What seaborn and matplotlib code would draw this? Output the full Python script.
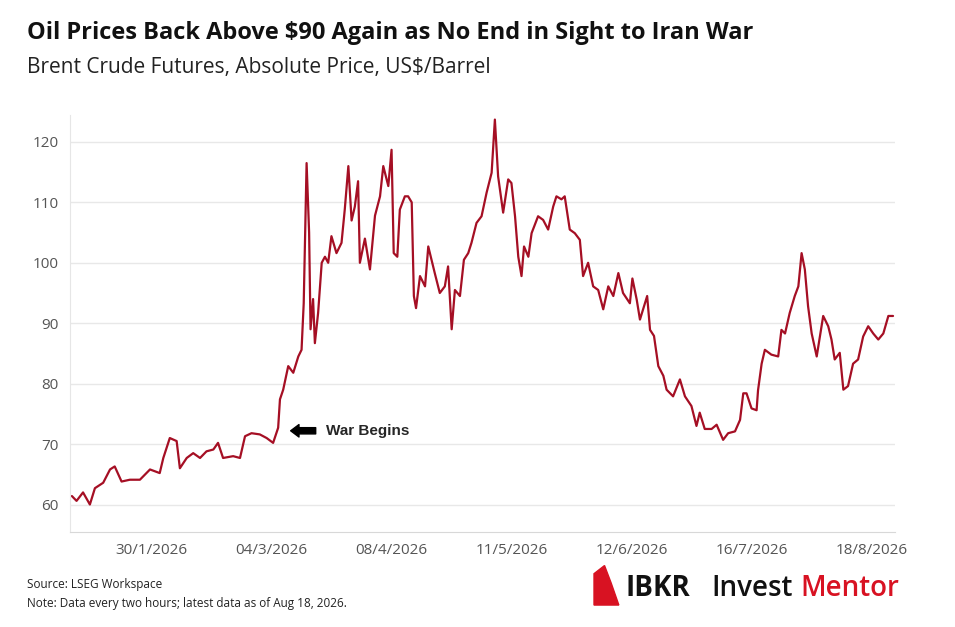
import matplotlib
matplotlib.use("Agg")
import matplotlib.pyplot as plt
import seaborn as sns
import pandas as pd
from matplotlib.patches import Polygon

# days since 8 Jan 2026 (approx.)
days = [0, 1.3, 3.1, 5.0, 6.4, 8.7, 10.6, 11.9, 13.8, 16.1, 18.9, 21.7, 24.4, 25.4, 27.2, 29.1, 30.0,
        31.9, 33.7, 35.6, 37.4, 39.3, 40.6, 42.0, 44.8, 46.7, 48.1, 49.9, 52.2, 54.1, 55.9, 57.3, 57.8,
        58.7, 60.1, 61.5, 62.9, 63.8, 64.4, 65.2, 65.9, 66.3, 67.0, 67.5, 68.4, 69.4, 70.3, 71.2, 72.1,
        73.5, 74.9, 75.8, 76.8, 77.7, 78.6, 79.5, 80.0, 81.4, 82.8, 84.2, 85.6, 86.5, 87.9, 88.8, 89.4,
        90.4, 91.1, 92.5, 93.4, 94.4, 95.0, 95.6, 96.7, 98.1, 99.0, 99.9, 100.8, 102.2, 103.6, 104.5,
        105.5, 106.4, 107.8, 108.9, 110.1, 111.0, 112.4, 113.8, 115.2, 116.6, 117.5, 118.4, 119.8, 121.2,
        122.1, 123.1, 124.0, 124.9, 125.6, 126.8, 127.7, 129.5, 130.9, 132.3, 133.7, 134.6, 136.0, 136.9,
        138.3, 139.7, 141.1, 142.0, 143.4, 144.8, 146.2, 147.6, 149.0, 150.4, 151.8, 153.1, 155.0, 155.7,
        156.9, 157.8, 159.2, 159.8, 160.6, 161.7, 162.9, 164.3, 165.2, 167.0, 168.9, 170.3, 172.1, 173.5,
        174.4, 175.8, 177.7, 179.1, 180.9, 182.3, 184.2, 185.6, 186.5, 187.4, 188.8, 190.2, 190.6, 191.6,
        192.5, 194.3, 196.2, 197.1, 198.1, 199.4, 200.8, 201.8, 202.7, 203.6, 204.5, 205.5, 206.9, 207.8,
        208.7, 210.1, 211.0, 211.9, 213.3, 214.3, 215.6, 217.0, 218.4, 219.8, 221.2, 222.6, 224.0, 225.4,
        226.8, 228.1]
price = [61.4, 60.6, 62.0, 60.0, 62.7, 63.6, 65.8, 66.3, 63.8, 64.1, 64.1, 65.8, 65.2, 67.7, 71.0, 70.5, 66.0,
         67.7, 68.5, 67.7, 68.8, 69.1, 70.2, 67.7, 68.0, 67.7, 71.3, 71.8, 71.6, 71.0, 70.2, 72.7, 77.4,
         79.0, 82.9, 81.8, 84.5, 85.6, 93.3, 116.5, 105.0, 89.0, 94.0, 86.7, 91.7, 100.0, 101.0, 100.0, 104.4,
         101.6, 103.3, 108.8, 116.0, 107.0, 109.3, 113.5, 100.0, 104.0, 98.9, 107.8, 111.0, 116.0, 112.7, 118.7, 101.6,
         101.0, 108.8, 111.0, 111.0, 110.0, 94.5, 92.5, 97.8, 96.1, 102.7, 100.5, 98.3, 95.0, 96.1, 99.4,
         89.0, 95.5, 94.5, 100.5, 101.6, 103.3, 106.6, 107.7, 111.6, 114.9, 123.7, 114.3, 108.3, 113.8,
         113.2, 107.7, 101.0, 97.8, 102.7, 101.0, 104.9, 107.7, 107.1, 105.5, 109.3, 111.0, 110.5, 111.0,
         105.5, 104.9, 103.8, 97.8, 100.0, 96.1, 95.5, 92.3, 96.1, 94.5, 98.3, 95.0, 93.3, 97.4,
         93.9, 90.6, 93.3, 94.5, 88.9, 87.9, 82.9, 81.3, 79.0, 77.9, 80.7, 77.9, 76.3, 73.0,
         75.2, 72.5, 72.5, 73.2, 70.7, 71.8, 72.1, 74.0, 78.4, 78.4, 75.9, 75.6, 78.9, 83.3,
         85.6, 84.8, 84.5, 88.9, 88.3, 91.7, 94.5, 96.1, 101.6, 98.9, 92.8, 88.3, 84.5, 87.8,
         91.2, 89.5, 87.3, 84.0, 85.1, 79.0, 79.6, 83.3, 84.0, 87.8, 89.5, 88.3, 87.3, 88.3,
         91.2, 91.2]
tick_labels = ["30/1/2026", "04/3/2026", "08/4/2026", "11/5/2026", "12/6/2026", "16/7/2026", "18/8/2026"]

df = pd.DataFrame({"day": days, "price": price})

sns.set_style("white")
plt.rcParams["font.family"] = ["Open Sans", "DejaVu Sans"]

fig = plt.figure(figsize=(9.55, 6.27), dpi=100)
ax = fig.add_axes([0.073, 0.152, 0.864, 0.665])
sns.lineplot(data=df, x="day", y="price", ax=ax, color="#a50f24", linewidth=1.6)

ax.set_xlim(-0.6, 228.6)
ax.set_ylim(55.5, 124.5)
ax.set_yticks([60, 70, 80, 90, 100, 110, 120])
ax.set_xticks([22.2 + 33.33 * i for i in range(len(tick_labels))])
ax.set_xticklabels(tick_labels)
ax.tick_params(axis="both", length=0, labelsize=11, colors="#555555", pad=8)
ax.grid(axis="y", color="#e8e8e8", linewidth=1)
ax.set_xlabel("")
ax.set_ylabel("")
for s in ["top", "right"]:
    ax.spines[s].set_visible(False)
ax.spines["left"].set_color("#e6e6e6")
ax.spines["bottom"].set_color("#d8d8d8")

ax.annotate("", xy=(60.0, 72.2), xytext=(68.5, 72.2),
            arrowprops=dict(arrowstyle="simple,head_length=0.6,head_width=0.9,tail_width=0.45",
                            color="black"))
ax.text(70.5, 72.2, "War Begins", fontsize=11, fontweight="bold", va="center",
        family=["Liberation Sans", "DejaVu Sans"])

fig.text(0.028, 0.947, "Oil Prices Back Above $90 Again as No End in Sight to Iran War",
         fontsize=17, fontweight="bold", color="#111111", va="center")
fig.text(0.028, 0.892, "Brent Crude Futures, Absolute Price, US$/Barrel",
         fontsize=15, color="#222222", va="center")
fig.text(0.028, 0.067, "Source: LSEG Workspace", fontsize=8.5, color="#222222", va="center")
fig.text(0.028, 0.037, "Note: Data every two hours; latest data as of Aug 18, 2026.",
         fontsize=8.5, color="#222222", va="center")

# logo
fig.patches.append(Polygon([(0.622, 0.035), (0.622, 0.085), (0.633, 0.098), (0.640, 0.070),
                            (0.648, 0.035)], closed=True, transform=fig.transFigure,
                           color="#d81222"))
fig.text(0.655, 0.062, "IBKR", fontsize=20, fontweight="bold", color="#111111", va="center")
fig.text(0.745, 0.062, "Invest", fontsize=20, fontweight="semibold", color="#111111", va="center")
fig.text(0.838, 0.062, "Mentor", fontsize=20, fontweight="semibold", color="#d81222", va="center")

fig.savefig("out.png", dpi=100)
